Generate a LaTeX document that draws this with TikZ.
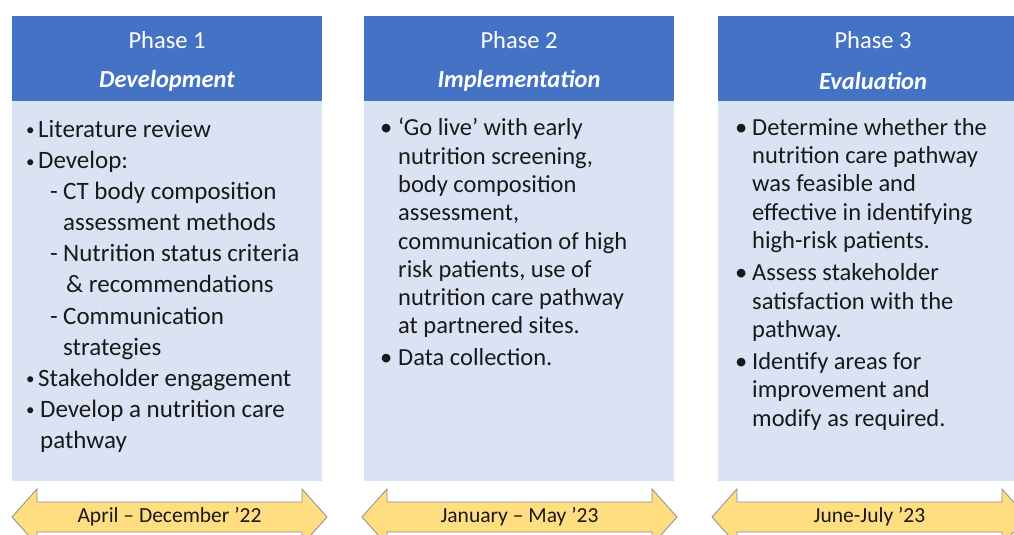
\documentclass[tikz,border=0pt]{standalone}
\usepackage{fontspec}
\setmainfont{Carlito}
\usetikzlibrary{positioning}
\definecolor{phblue}{RGB}{68,114,196}
\definecolor{phbody}{RGB}{218,227,243}
\definecolor{dtyellow}{RGB}{255,222,130}
\definecolor{dtedge}{RGB}{140,140,140}
\definecolor{txtdark}{RGB}{25,25,25}

% bullet and sub-item markers
\newcommand{\bl}[1][14pt]{\makebox[#1][l]{\textbullet}}
\newcommand{\sbl}{\hspace*{26pt}\makebox[13pt][l]{-}}
\newcommand{\smallbl}[1][14pt]{\makebox[#1][l]{\hspace*{2pt}\raisebox{1.5pt}{\fontsize{17}{17}\selectfont\textbullet}}}

\begin{document}
\begin{tikzpicture}[x=1pt, y=-1pt,
    headtext/.style={text=white, font=\fontsize{24.5}{29}\selectfont, inner sep=0pt},
    bodytext/.style={text=txtdark, align=left, anchor=north west, inner sep=0pt},
    datearrow/.style={fill=dtyellow, draw=dtedge, line width=0.8pt, line join=miter},
    datetext/.style={text=txtdark, font=\fontsize{21.5}{26}\selectfont, inner sep=0pt}]
  \useasboundingbox (0,0) rectangle (1014,535);

  % Phase 1
  \fill[phblue] (12,16) rectangle (322,101);
  \fill[phbody] (12,101) rectangle (322,481);
  \node[headtext] (ph1) at (167,40) {Phase 1};
  \node[headtext, font=\fontsize{24.5}{29}\selectfont\bfseries\itshape] (ph1name) at (167,81) {Development};
  \node[bodytext, font=\fontsize{25}{31.1}\selectfont] (ph1list) at (24,120) {%
    \smallbl Literature review\\
    \smallbl Develop:\\
    \sbl CT body composition\\
    \hspace*{39pt}assessment methods\\
    \sbl Nutrition status criteria\\
    \hspace*{42pt}\& recommendations\\
    \sbl Communication\\
    \hspace*{39pt}strategies\\
    \smallbl Stakeholder engagement\\
    \smallbl[16pt]Develop a nutrition care\\
    \hspace*{16pt}pathway};

  % Phase 2
  \fill[phblue] (364,16) rectangle (674,101);
  \fill[phbody] (364,101) rectangle (674,481);
  \node[headtext] (ph2) at (519,40) {Phase 2};
  \node[headtext, font=\fontsize{24.5}{29}\selectfont\bfseries\itshape] (ph2name) at (519,81) {Implementation};
  \node[bodytext, font=\fontsize{24.5}{28.3}\selectfont] (ph2list) at (380,118) {%
    \bl[18pt]‘Go live’ with early\\
    \hspace*{18pt}nutrition screening,\\
    \hspace*{18pt}body composition\\
    \hspace*{18pt}assessment,\\
    \hspace*{18pt}communication of high\\
    \hspace*{18pt}risk patients, use of\\
    \hspace*{18pt}nutrition care pathway\\
    \hspace*{18pt}at partnered sites.\\[3pt]
    \bl[18pt]Data collection.};

  % Phase 3
  \fill[phblue] (718,16) rectangle (1028,101);
  \fill[phbody] (718,101) rectangle (1028,481);
  \node[headtext] (ph3) at (873,40) {Phase 3};
  \node[headtext, font=\fontsize{24.5}{29}\selectfont\bfseries\itshape] (ph3name) at (873,81) {Evaluation};
  \node[bodytext, font=\fontsize{24.5}{28.3}\selectfont] (ph3list) at (735,118) {%
    \bl[17pt]Determine whether the\\
    \hspace*{17pt}nutrition care pathway\\
    \hspace*{17pt}was feasible and\\
    \hspace*{17pt}effective in identifying\\
    \hspace*{17pt}high-risk patients.\\[4pt]
    \bl[17pt]Assess stakeholder\\
    \hspace*{17pt}satisfaction with the\\
    \hspace*{17pt}pathway.\\[4pt]
    \bl[17pt]Identify areas for\\
    \hspace*{17pt}improvement and\\
    \hspace*{17pt}modify as required.};

  % Timeline arrows
  \draw[datearrow] (12,517) -- (37,489) -- (37,502) -- (302,502) -- (302,489) -- (327,517)
    -- (302,545) -- (302,532) -- (37,532) -- (37,545) -- cycle;
  \node[datetext] (dt1) at (169.5,517) {April – December ’22};

  \draw[datearrow] (362,517) -- (387,489) -- (387,502) -- (652,502) -- (652,489) -- (677,517)
    -- (652,545) -- (652,532) -- (387,532) -- (387,545) -- cycle;
  \node[datetext] (dt2) at (519.5,517) {January – May ’23};

  \draw[datearrow] (712,517) -- (737,489) -- (737,502) -- (1002,502) -- (1002,489) -- (1027,517)
    -- (1002,545) -- (1002,532) -- (737,532) -- (737,545) -- cycle;
  \node[datetext] (dt3) at (869.5,517) {June-July ’23};
\end{tikzpicture}
\end{document}
